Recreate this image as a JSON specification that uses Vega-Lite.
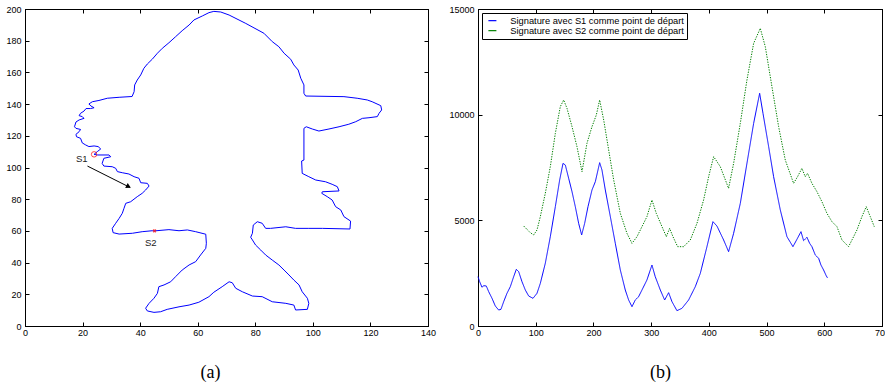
{
  "$schema": "https://vega.github.io/schema/vega-lite/v6.json",
  "background": "white",
  "padding": {"left": 5, "top": 4, "right": 0, "bottom": 0},
  "spacing": 11,
  "resolve": {"legend": {"color": "independent"}},
  "config": {
    "view": {"stroke": "black", "strokeWidth": 1},
    "axis": {"grid": false, "domainColor": "black", "tickColor": "black", "tickSize": -4, "labelFont": "Liberation Sans", "labelFontSize": 9, "labelColor": "black", "labelPadding": 8, "labelFlush": false, "labelOverlap": false, "labelBound": false, "titleFont": "Liberation Serif", "titleFontSize": 18, "titleFontWeight": "normal", "titleColor": "black"},
    "axisX": {"labelPadding": 6}
  },
  "hconcat": [
    {
      "width": 403,
      "height": 317,
      "layer": [
        {
          "data": {"values": [
            {"i":0,"x":24.0,"y":108.3},{"i":1,"x":25.1,"y":107.9},{"i":2,"x":29.2,"y":107.9},{"i":3,"x":29.8,"y":106.8},{"i":4,"x":27.4,"y":105.8},{"i":5,"x":26.8,"y":102.6},{"i":6,"x":27.4,"y":100.9},{"i":7,"x":30.3,"y":100.5},{"i":8,"x":31.5,"y":99.5},{"i":9,"x":32.1,"y":97.4},{"i":10,"x":33.8,"y":96.7},{"i":11,"x":36.1,"y":95.9},{"i":12,"x":37.9,"y":94.2},{"i":13,"x":39.6,"y":93.2},{"i":14,"x":40.2,"y":90.4},{"i":15,"x":42.5,"y":90.0},{"i":16,"x":43.1,"y":88.3},{"i":17,"x":41.9,"y":85.8},{"i":18,"x":40.7,"y":83.7},{"i":19,"x":39.0,"y":81.6},{"i":20,"x":36.7,"y":78.4},{"i":21,"x":35.0,"y":77.4},{"i":22,"x":34.4,"y":74.3},{"i":23,"x":33.8,"y":71.1},{"i":24,"x":32.7,"y":67.9},{"i":25,"x":31.5,"y":64.8},{"i":26,"x":30.3,"y":61.6},{"i":27,"x":30.6,"y":58.9},{"i":28,"x":32.7,"y":58.0},{"i":29,"x":37.3,"y":58.5},{"i":30,"x":40.7,"y":59.5},{"i":31,"x":44.2,"y":60.1},{"i":32,"x":45.0,"y":60.0},{"i":33,"x":50.0,"y":60.8},{"i":34,"x":53.5,"y":60.1},{"i":35,"x":56.4,"y":60.6},{"i":36,"x":59.3,"y":59.5},{"i":37,"x":62.8,"y":57.9},{"i":38,"x":63.0,"y":52.2},{"i":39,"x":62.8,"y":49.0},{"i":40,"x":61.0,"y":44.8},{"i":41,"x":59.3,"y":40.6},{"i":42,"x":57.0,"y":38.5},{"i":43,"x":54.6,"y":35.3},{"i":44,"x":52.3,"y":31.1},{"i":45,"x":50.6,"y":27.9},{"i":46,"x":48.3,"y":25.9},{"i":47,"x":46.5,"y":24.8},{"i":48,"x":46.0,"y":20.6},{"i":49,"x":44.8,"y":17.5},{"i":50,"x":43.1,"y":14.3},{"i":51,"x":41.9,"y":11.2},{"i":52,"x":42.5,"y":9.5},{"i":53,"x":44.8,"y":8.6},{"i":54,"x":47.1,"y":9.0},{"i":55,"x":49.4,"y":10.5},{"i":56,"x":53.5,"y":12.1},{"i":57,"x":57.0,"y":13.2},{"i":58,"x":60.4,"y":15.0},{"i":59,"x":63.9,"y":18.5},{"i":60,"x":65.6,"y":21.3},{"i":61,"x":68.5,"y":24.8},{"i":62,"x":70.9,"y":27.9},{"i":63,"x":72.0,"y":27.3},{"i":64,"x":73.2,"y":23.8},{"i":65,"x":75.5,"y":21.6},{"i":66,"x":79.0,"y":18.9},{"i":67,"x":82.4,"y":18.5},{"i":68,"x":85.9,"y":15.3},{"i":69,"x":90.6,"y":14.3},{"i":70,"x":93.4,"y":13.2},{"i":71,"x":94.0,"y":10.1},{"i":72,"x":98.1,"y":10.5},{"i":73,"x":98.6,"y":14.3},{"i":74,"x":98.1,"y":17.5},{"i":75,"x":96.3,"y":21.6},{"i":76,"x":95.2,"y":25.9},{"i":77,"x":93.4,"y":29.0},{"i":78,"x":91.7,"y":32.2},{"i":79,"x":90.0,"y":35.3},{"i":80,"x":88.2,"y":38.5},{"i":81,"x":85.9,"y":41.6},{"i":82,"x":83.6,"y":44.8},{"i":83,"x":81.9,"y":47.9},{"i":84,"x":80.1,"y":51.1},{"i":85,"x":79.0,"y":54.3},{"i":86,"x":78.4,"y":56.0},{"i":87,"x":79.0,"y":58.5},{"i":88,"x":79.3,"y":63.7},{"i":89,"x":80.7,"y":65.8},{"i":90,"x":82.4,"y":64.8},{"i":91,"x":83.6,"y":61.6},{"i":92,"x":85.3,"y":61.6},{"i":93,"x":90.6,"y":62.6},{"i":94,"x":94.0,"y":61.6},{"i":95,"x":98.6,"y":61.6},{"i":96,"x":103.3,"y":61.6},{"i":97,"x":112.9,"y":61.2},{"i":98,"x":113.1,"y":66.2},{"i":99,"x":110.8,"y":69.0},{"i":100,"x":109.7,"y":73.2},{"i":101,"x":107.9,"y":75.3},{"i":102,"x":106.7,"y":79.5},{"i":103,"x":105.0,"y":81.6},{"i":104,"x":103.1,"y":83.7},{"i":105,"x":103.3,"y":84.7},{"i":106,"x":109.1,"y":85.2},{"i":107,"x":108.5,"y":87.9},{"i":108,"x":106.7,"y":89.4},{"i":109,"x":104.4,"y":91.0},{"i":110,"x":101.0,"y":92.1},{"i":111,"x":98.6,"y":94.2},{"i":112,"x":96.3,"y":96.3},{"i":113,"x":96.1,"y":104.1},{"i":114,"x":96.9,"y":104.7},{"i":115,"x":96.9,"y":124.7},{"i":116,"x":97.7,"y":125.7},{"i":117,"x":99.8,"y":124.3},{"i":118,"x":102.1,"y":123.0},{"i":119,"x":105.6,"y":124.3},{"i":120,"x":109.1,"y":125.7},{"i":121,"x":112.5,"y":127.3},{"i":122,"x":114.9,"y":128.9},{"i":123,"x":117.2,"y":131.0},{"i":124,"x":119.5,"y":131.4},{"i":125,"x":122.4,"y":132.1},{"i":126,"x":123.0,"y":134.2},{"i":127,"x":123.9,"y":136.3},{"i":128,"x":123.6,"y":139.0},{"i":129,"x":120.6,"y":141.5},{"i":130,"x":118.9,"y":142.6},{"i":131,"x":115.4,"y":143.7},{"i":132,"x":110.8,"y":144.7},{"i":133,"x":97.5,"y":145.1},{"i":134,"x":96.9,"y":146.8},{"i":135,"x":96.9,"y":152.1},{"i":136,"x":95.8,"y":156.3},{"i":137,"x":94.9,"y":161.5},{"i":138,"x":93.4,"y":164.7},{"i":139,"x":92.3,"y":168.3},{"i":140,"x":90.0,"y":172.1},{"i":141,"x":88.2,"y":176.2},{"i":142,"x":85.9,"y":179.4},{"i":143,"x":83.0,"y":184.7},{"i":144,"x":76.7,"y":190.9},{"i":145,"x":70.9,"y":196.2},{"i":146,"x":68.0,"y":198.1},{"i":147,"x":65.6,"y":198.5},{"i":148,"x":63.9,"y":197.7},{"i":149,"x":61.6,"y":195.6},{"i":150,"x":58.7,"y":193.1},{"i":151,"x":57.0,"y":189.9},{"i":152,"x":54.6,"y":186.3},{"i":153,"x":52.3,"y":182.5},{"i":154,"x":50.0,"y":178.7},{"i":155,"x":47.7,"y":175.2},{"i":156,"x":46.0,"y":172.1},{"i":157,"x":44.2,"y":168.3},{"i":158,"x":42.5,"y":165.3},{"i":159,"x":41.3,"y":162.6},{"i":160,"x":40.2,"y":158.4},{"i":161,"x":39.0,"y":155.2},{"i":162,"x":38.1,"y":152.1},{"i":163,"x":37.9,"y":147.8},{"i":164,"x":37.2,"y":144.8},{"i":165,"x":32.7,"y":144.3},{"i":166,"x":28.6,"y":143.7},{"i":167,"x":25.7,"y":142.3},{"i":168,"x":23.4,"y":141.5},{"i":169,"x":22.2,"y":140.1},{"i":170,"x":22.9,"y":138.8},{"i":171,"x":24.0,"y":137.7},{"i":172,"x":22.8,"y":137.2},{"i":173,"x":21.2,"y":137.2},{"i":174,"x":20.5,"y":135.6},{"i":175,"x":19.3,"y":134.2},{"i":176,"x":18.8,"y":132.7},{"i":177,"x":19.9,"y":132.1},{"i":178,"x":20.5,"y":131.0},{"i":179,"x":18.8,"y":130.0},{"i":180,"x":17.7,"y":128.7},{"i":181,"x":17.2,"y":125.7},{"i":182,"x":17.7,"y":124.7},{"i":183,"x":19.3,"y":124.0},{"i":184,"x":18.8,"y":122.6},{"i":185,"x":17.7,"y":120.9},{"i":186,"x":17.9,"y":119.4},{"i":187,"x":19.3,"y":118.4},{"i":188,"x":19.9,"y":115.5},{"i":189,"x":21.1,"y":114.2},{"i":190,"x":22.2,"y":113.2},{"i":191,"x":24.0,"y":113.6},{"i":192,"x":25.4,"y":113.2},{"i":193,"x":26.3,"y":111.7},{"i":194,"x":25.1,"y":110.0},{"i":195,"x":24.0,"y":108.3}
          ]},
          "mark": {"type": "line", "color": "#0000ff", "strokeWidth": 1},
          "encoding": {
            "x": {"field": "x", "type": "quantitative", "scale": {"domain": [0, 140], "nice": false, "zero": false},
                  "axis": {"values": [0,20,40,60,80,100,120,140], "title": "(a)", "titleX": 185, "titleY": 46, "titleBaseline": "middle", "titleAlign": "center"}},
            "y": {"field": "y", "type": "quantitative", "scale": {"domain": [0, 200], "nice": false, "zero": false},
                  "axis": {"values": [0,20,40,60,80,100,120,140,160,180,200], "title": null}},
            "order": {"field": "i"}
          }
        },
        {
          "data": {"values": [{"x": 24.0, "y": 108.3}]},
          "mark": {"type": "point", "shape": "circle", "color": "#ff0000", "size": 30, "strokeWidth": 1, "filled": false},
          "encoding": {
            "x": {"field": "x", "type": "quantitative", "axis": {"orient": "top", "values": [0,20,40,60,80,100,120,140], "labels": false, "title": null}},
            "y": {"field": "y", "type": "quantitative", "axis": {"orient": "right", "values": [0,20,40,60,80,100,120,140,160,180,200], "labels": false, "title": null}}
          }
        },
        {
          "data": {"values": [{"x": 45.0, "y": 60.0}]},
          "mark": {"type": "point", "shape": "cross", "angle": 45, "color": "#ff0000", "size": 14, "filled": true},
          "encoding": {
            "x": {"field": "x", "type": "quantitative", "axis": null},
            "y": {"field": "y", "type": "quantitative", "axis": null}
          }
        },
        {
          "data": {"values": [{"x": 19.7, "y": 105.4, "t": "S1"}, {"x": 43.7, "y": 52.6, "t": "S2"}]},
          "mark": {"type": "text", "font": "Liberation Sans", "fontSize": 9.5, "color": "#222222", "align": "center", "baseline": "middle"},
          "encoding": {
            "x": {"field": "x", "type": "quantitative", "axis": null},
            "y": {"field": "y", "type": "quantitative", "axis": null},
            "text": {"field": "t"}
          }
        },
        {
          "data": {"values": [{"x": 21.7, "y": 100.9, "x2": 36.5, "y2": 87.4}]},
          "mark": {"type": "rule", "color": "black", "strokeWidth": 1},
          "encoding": {
            "x": {"field": "x", "type": "quantitative", "axis": null},
            "y": {"field": "y", "type": "quantitative", "axis": null},
            "x2": {"field": "x2"},
            "y2": {"field": "y2"}
          }
        },
        {
          "data": {"values": [{"x": 36.0, "y": 87.9}]},
          "mark": {"type": "point", "shape": "triangle-right", "color": "black", "filled": true, "size": 32, "angle": 26.7, "opacity": 1},
          "encoding": {
            "x": {"field": "x", "type": "quantitative", "axis": null},
            "y": {"field": "y", "type": "quantitative", "axis": null}
          }
        }
      ],
      "resolve": {"axis": {"x": "independent", "y": "independent"}}
    },
    {
      "width": 404,
      "height": 317,
      "layer": [
        {
          "data": {"values": [
            {"s":"Signature avec S1 comme point de départ","t":0,"v":2334},{"s":"Signature avec S1 comme point de départ","t":2.9,"v":2098},{"s":"Signature avec S1 comme point de départ","t":6.9,"v":1830},{"s":"Signature avec S1 comme point de départ","t":9.8,"v":1908},{"s":"Signature avec S1 comme point de départ","t":14.4,"v":1893},{"s":"Signature avec S1 comme point de départ","t":18.5,"v":1625},{"s":"Signature avec S1 comme point de départ","t":24.3,"v":1309},{"s":"Signature avec S1 comme point de départ","t":30.0,"v":946},{"s":"Signature avec S1 comme point de départ","t":35.8,"v":757},{"s":"Signature avec S1 comme point de départ","t":39.8,"v":789},{"s":"Signature avec S1 comme point de départ","t":44.5,"v":1151},{"s":"Signature avec S1 comme point de départ","t":50.2,"v":1546},{"s":"Signature avec S1 comme point de départ","t":56.0,"v":1861},{"s":"Signature avec S1 comme point de départ","t":61.8,"v":2334},{"s":"Signature avec S1 comme point de départ","t":66.4,"v":2681},{"s":"Signature avec S1 comme point de départ","t":70.5,"v":2571},{"s":"Signature avec S1 comme point de départ","t":76.2,"v":2098},{"s":"Signature avec S1 comme point de départ","t":82.0,"v":1703},{"s":"Signature avec S1 comme point de départ","t":87.8,"v":1420},{"s":"Signature avec S1 comme point de départ","t":95.3,"v":1309},{"s":"Signature avec S1 comme point de départ","t":102.2,"v":1546},{"s":"Signature avec S1 comme point de départ","t":108.0,"v":2019},{"s":"Signature avec S1 comme point de départ","t":116.6,"v":2965},{"s":"Signature avec S1 comme point de départ","t":125.3,"v":4227},{"s":"Signature avec S1 comme point de départ","t":134.0,"v":5647},{"s":"Signature avec S1 comme point de départ","t":141.5,"v":6909},{"s":"Signature avec S1 comme point de départ","t":147.3,"v":7697},{"s":"Signature avec S1 comme point de départ","t":151.3,"v":7618},{"s":"Signature avec S1 comme point de départ","t":157.1,"v":6987},{"s":"Signature avec S1 comme point de départ","t":162.9,"v":6356},{"s":"Signature avec S1 comme point de départ","t":168.6,"v":5647},{"s":"Signature avec S1 comme point de départ","t":174.4,"v":4858},{"s":"Signature avec S1 comme point de départ","t":179.6,"v":4306},{"s":"Signature avec S1 comme point de départ","t":184.8,"v":4858},{"s":"Signature avec S1 comme point de départ","t":190.6,"v":5647},{"s":"Signature avec S1 comme point de départ","t":197.5,"v":6436},{"s":"Signature avec S1 comme point de départ","t":203.3,"v":6830},{"s":"Signature avec S1 comme point de départ","t":210.8,"v":7729},{"s":"Signature avec S1 comme point de départ","t":214.8,"v":7382},{"s":"Signature avec S1 comme point de départ","t":220.6,"v":6436},{"s":"Signature avec S1 comme point de départ","t":229.3,"v":5174},{"s":"Signature avec S1 comme point de départ","t":237.9,"v":3912},{"s":"Signature avec S1 comme point de départ","t":246.6,"v":2650},{"s":"Signature avec S1 comme point de départ","t":255.2,"v":1703},{"s":"Signature avec S1 comme point de départ","t":261.0,"v":1230},{"s":"Signature avec S1 comme point de départ","t":266.8,"v":915},{"s":"Signature avec S1 comme point de départ","t":272.5,"v":1230},{"s":"Signature avec S1 comme point de départ","t":278.3,"v":1388},{"s":"Signature avec S1 comme point de départ","t":284.1,"v":1703},{"s":"Signature avec S1 comme point de départ","t":292.7,"v":2177},{"s":"Signature avec S1 comme point de départ","t":301.4,"v":2886},{"s":"Signature avec S1 comme point de départ","t":307.1,"v":2334},{"s":"Signature avec S1 comme point de départ","t":315.9,"v":1703},{"s":"Signature avec S1 comme point de départ","t":323.4,"v":1230},{"s":"Signature avec S1 comme point de départ","t":330.3,"v":1577},{"s":"Signature avec S1 comme point de départ","t":336.1,"v":1151},{"s":"Signature avec S1 comme point de départ","t":344.7,"v":726},{"s":"Signature avec S1 comme point de départ","t":353.4,"v":836},{"s":"Signature avec S1 comme point de départ","t":364.9,"v":1230},{"s":"Signature avec S1 comme point de départ","t":376.5,"v":1861},{"s":"Signature avec S1 comme point de départ","t":385.2,"v":2492},{"s":"Signature avec S1 comme point de départ","t":396.7,"v":3754},{"s":"Signature avec S1 comme point de départ","t":407.1,"v":4937},{"s":"Signature avec S1 comme point de départ","t":414.0,"v":4732},{"s":"Signature avec S1 comme point de départ","t":425.6,"v":4069},{"s":"Signature avec S1 comme point de départ","t":434.2,"v":3517},{"s":"Signature avec S1 comme point de départ","t":442.9,"v":4385},{"s":"Signature avec S1 comme point de départ","t":454.5,"v":5804},{"s":"Signature avec S1 comme point de départ","t":466.0,"v":7697},{"s":"Signature avec S1 comme point de départ","t":477.6,"v":9590},{"s":"Signature avec S1 comme point de départ","t":488.0,"v":11010},{"s":"Signature avec S1 comme point de départ","t":493.8,"v":10063},{"s":"Signature avec S1 comme point de départ","t":503.6,"v":8486},{"s":"Signature avec S1 comme point de départ","t":512.2,"v":7066},{"s":"Signature avec S1 comme point de départ","t":523.8,"v":5489},{"s":"Signature avec S1 comme point de départ","t":535.3,"v":4227},{"s":"Signature avec S1 comme point de départ","t":545.7,"v":3754},{"s":"Signature avec S1 comme point de départ","t":552.6,"v":4101},{"s":"Signature avec S1 comme point de départ","t":559.6,"v":4464},{"s":"Signature avec S1 comme point de départ","t":564.2,"v":4038},{"s":"Signature avec S1 comme point de départ","t":570.0,"v":4196},{"s":"Signature avec S1 comme point de départ","t":574.6,"v":3912},{"s":"Signature avec S1 comme point de départ","t":578.6,"v":3754},{"s":"Signature avec S1 comme point de départ","t":584.4,"v":3360},{"s":"Signature avec S1 comme point de départ","t":590.2,"v":3202},{"s":"Signature avec S1 comme point de départ","t":594.2,"v":2886},{"s":"Signature avec S1 comme point de départ","t":598.8,"v":2650},{"s":"Signature avec S1 comme point de départ","t":604.6,"v":2303},{"s":"Signature avec S1 comme point de départ","t":605.8,"v":2303},
            {"s":"Signature avec S2 comme point de départ","t":79.1,"v":4732},{"s":"Signature avec S2 comme point de départ","t":86.0,"v":4542},{"s":"Signature avec S2 comme point de départ","t":90.7,"v":4416},{"s":"Signature avec S2 comme point de départ","t":96.4,"v":4306},{"s":"Signature avec S2 comme point de départ","t":102.2,"v":4542},{"s":"Signature avec S2 comme point de départ","t":108.0,"v":5174},{"s":"Signature avec S2 comme point de départ","t":116.6,"v":6278},{"s":"Signature avec S2 comme point de départ","t":125.3,"v":7540},{"s":"Signature avec S2 comme point de départ","t":134.0,"v":9117},{"s":"Signature avec S2 comme point de départ","t":142.6,"v":10379},{"s":"Signature avec S2 comme point de départ","t":148.4,"v":10694},{"s":"Signature avec S2 comme point de départ","t":154.2,"v":10300},{"s":"Signature avec S2 comme point de départ","t":162.9,"v":9432},{"s":"Signature avec S2 comme point de départ","t":171.5,"v":8486},{"s":"Signature avec S2 comme point de départ","t":180.2,"v":7303},{"s":"Signature avec S2 comme point de départ","t":188.8,"v":8644},{"s":"Signature avec S2 comme point de départ","t":197.5,"v":9432},{"s":"Signature avec S2 comme point de départ","t":205.0,"v":9984},{"s":"Signature avec S2 comme point de départ","t":210.8,"v":10694},{"s":"Signature avec S2 comme point de départ","t":217.8,"v":9748},{"s":"Signature avec S2 comme point de départ","t":226.4,"v":8328},{"s":"Signature avec S2 comme point de départ","t":235.1,"v":6909},{"s":"Signature avec S2 comme point de départ","t":246.6,"v":5331},{"s":"Signature avec S2 comme point de départ","t":258.1,"v":4385},{"s":"Signature avec S2 comme point de départ","t":266.8,"v":3912},{"s":"Signature avec S2 comme point de départ","t":275.5,"v":4227},{"s":"Signature avec S2 comme point de départ","t":284.1,"v":4700},{"s":"Signature avec S2 comme point de départ","t":292.7,"v":5174},{"s":"Signature avec S2 comme point de départ","t":301.4,"v":5962},{"s":"Signature avec S2 comme point de départ","t":308.9,"v":5331},{"s":"Signature avec S2 comme point de départ","t":318.8,"v":4700},{"s":"Signature avec S2 comme point de départ","t":326.3,"v":4227},{"s":"Signature avec S2 comme point de départ","t":332.0,"v":4621},{"s":"Signature avec S2 comme point de départ","t":337.8,"v":4227},{"s":"Signature avec S2 comme point de départ","t":345.9,"v":3754},{"s":"Signature avec S2 comme point de départ","t":356.3,"v":3754},{"s":"Signature avec S2 comme point de départ","t":367.8,"v":4069},{"s":"Signature avec S2 comme point de départ","t":379.4,"v":4858},{"s":"Signature avec S2 comme point de départ","t":390.9,"v":5962},{"s":"Signature avec S2 comme point de départ","t":399.6,"v":7066},{"s":"Signature avec S2 comme point de départ","t":408.3,"v":8013},{"s":"Signature avec S2 comme point de départ","t":419.8,"v":7540},{"s":"Signature avec S2 comme point de départ","t":434.2,"v":6514},{"s":"Signature avec S2 comme point de départ","t":442.9,"v":7697},{"s":"Signature avec S2 comme point de départ","t":454.5,"v":9590},{"s":"Signature avec S2 comme point de départ","t":466.0,"v":11640},{"s":"Signature avec S2 comme point de départ","t":477.6,"v":13375},{"s":"Signature avec S2 comme point de départ","t":489.1,"v":14085},{"s":"Signature avec S2 comme point de départ","t":497.8,"v":13218},{"s":"Signature avec S2 comme point de départ","t":509.3,"v":11325},{"s":"Signature avec S2 comme point de départ","t":520.9,"v":9432},{"s":"Signature avec S2 comme point de départ","t":532.4,"v":7855},{"s":"Signature avec S2 comme point de départ","t":546.8,"v":6751},{"s":"Signature avec S2 comme point de départ","t":553.7,"v":7066},{"s":"Signature avec S2 comme point de départ","t":561.2,"v":7461},{"s":"Signature avec S2 comme point de départ","t":567.0,"v":7066},{"s":"Signature avec S2 comme point de départ","t":571.0,"v":7224},{"s":"Signature avec S2 comme point de départ","t":578.6,"v":6751},{"s":"Signature avec S2 comme point de départ","t":587.3,"v":6356},{"s":"Signature avec S2 comme point de départ","t":595.9,"v":5883},{"s":"Signature avec S2 comme point de départ","t":604.6,"v":5331},{"s":"Signature avec S2 comme point de départ","t":613.3,"v":4937},{"s":"Signature avec S2 comme point de départ","t":622.0,"v":4700},{"s":"Signature avec S2 comme point de départ","t":630.6,"v":4069},{"s":"Signature avec S2 comme point de départ","t":642.1,"v":3754},{"s":"Signature avec S2 comme point de départ","t":647.9,"v":4069},{"s":"Signature avec S2 comme point de départ","t":656.6,"v":4542},{"s":"Signature avec S2 comme point de départ","t":665.2,"v":5174},{"s":"Signature avec S2 comme point de départ","t":672.7,"v":5647},{"s":"Signature avec S2 comme point de départ","t":679.7,"v":5174},{"s":"Signature avec S2 comme point de départ","t":686.6,"v":4700}
          ]},
          "mark": {"type": "line", "strokeWidth": 1},
          "encoding": {
            "x": {"field": "t", "type": "quantitative", "scale": {"domain": [0, 700], "nice": false, "zero": false},
                  "axis": {"values": [0,100,200,300,400,500,600,700], "title": "(b)", "titleX": 182, "titleY": 46, "titleBaseline": "middle", "titleAlign": "center"}},
            "y": {"field": "v", "type": "quantitative", "scale": {"domain": [0, 15000], "nice": false, "zero": false},
                  "axis": {"values": [0, 5000, 10000, 15000], "format": "d", "title": null}},
            "color": {"field": "s", "type": "nominal",
                      "scale": {"domain": ["Signature avec S1 comme point de départ", "Signature avec S2 comme point de départ"], "range": ["#0000ff", "#008000"]},
                      "legend": {"title": null, "orient": "top-left", "offset": 4, "strokeColor": "black", "fillColor": "white", "padding": 3, "labelFont": "Liberation Sans", "labelFontSize": 9.3, "labelColor": "black", "symbolType": "M-0.5,0L2.7,0", "symbolSize": 25, "symbolStrokeWidth": 1.2, "rowPadding": 0, "labelOffset": 16, "labelLimit": 400}},
            "strokeDash": {"field": "s", "type": "nominal",
                           "scale": {"domain": ["Signature avec S1 comme point de départ", "Signature avec S2 comme point de départ"], "range": [[1, 0], [1.3, 1.3]]},
                           "legend": null}
          }
        },
        {
          "data": {"values": [{"t": 0, "v": 0}]},
          "mark": {"type": "point", "opacity": 0},
          "encoding": {
            "x": {"field": "t", "type": "quantitative", "axis": {"orient": "top", "values": [0,100,200,300,400,500,600,700], "labels": false, "title": null}},
            "y": {"field": "v", "type": "quantitative", "axis": {"orient": "right", "values": [0, 5000, 10000, 15000], "labels": false, "title": null}}
          }
        }
      ],
      "resolve": {"axis": {"x": "independent", "y": "independent"}}
    }
  ]
}
